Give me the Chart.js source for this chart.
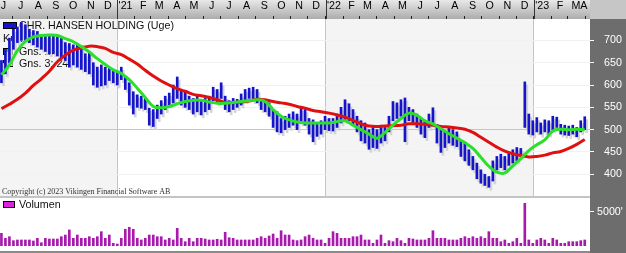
<!DOCTYPE html>
<html><head><meta charset="utf-8">
<script src="https://cdn.jsdelivr.net/npm/chart.js@4.4.0/dist/chart.umd.min.js"></script>
<style>
html,body{margin:0;padding:0;background:#fff;overflow:hidden}
#wrap{position:relative;width:626px;height:253px}
#c1{position:absolute;left:0;top:0}
#c2{position:absolute;left:0;top:196px}
</style></head><body>
<div id="wrap"><canvas id="c1" width="626" height="196"></canvas><canvas id="c2" width="626" height="57"></canvas></div>
<script>
// ---- data (weekly, first week ending 2020-06-12) ----
const firstWeek = [2020, 5, 12];
const high = [655,680,705,725,730,740,735,725,722,720,
  712,712,710,712,708,705,695,693,690,693,
  688,670,672,650,640,645,640,638,635,630,
  640,620,605,585,578,575,570,548,545,555,
  565,575,582,600,618,590,585,575,570,575,
  565,570,575,595,590,605,575,565,570,568,
  580,590,593,595,590,570,565,560,545,540,
  525,530,535,540,535,548,545,525,522,515,
  520,530,525,525,535,550,567,558,545,530,
  520,515,500,505,500,510,505,530,563,560,
  567,571,550,545,535,525,520,535,549,512,
  505,495,505,500,495,475,470,455,440,425,
  410,400,395,430,440,445,440,450,455,460,
  458,607,535,520,527,515,522,520,530,528,
  512,510,508,510,505,520,529];
const low = [605,625,650,680,695,700,700,695,690,685,
  680,675,670,670,665,660,655,640,645,640,
  635,630,625,600,595,598,600,610,605,600,
  612,590,555,535,550,548,545,510,507,525,
  535,545,555,560,570,555,550,545,535,540,
  533,540,545,565,560,570,545,540,545,550,
  555,565,570,565,560,545,540,530,505,495,
  493,500,505,510,500,515,510,490,473,485,
  490,500,498,497,505,515,520,520,510,495,
  475,470,456,460,458,470,475,495,520,525,
  530,473,520,515,505,490,482,505,510,470,
  449,460,470,465,462,440,430,420,410,390,
  380,375,371,385,410,415,410,420,425,430,
  440,505,490,488,495,490,495,490,500,505,
  490,488,487,490,484,495,500];
// volume in thousands
const volume = [1850,1120,1360,780,880,880,880,880,730,1120,
  480,1120,1020,1020,1020,1360,1600,2340,1120,1600,
  1120,1120,1360,1120,1360,2090,1120,1600,390,290,
  1120,2440,2730,2440,1120,880,1120,1600,1600,1360,
  1360,880,1120,880,2580,1120,630,1120,630,1120,
  1120,1020,880,880,980,880,2000,1210,1120,880,
  880,880,880,880,1120,1360,1120,1460,1750,1120,
  2230,1600,1600,880,780,880,1360,1600,1120,880,
  880,390,1120,2090,1850,1120,1120,1120,1360,1360,
  1600,880,880,390,880,1600,390,780,630,1120,
  780,390,1120,1020,880,880,880,1120,2230,1120,
  1120,1120,880,880,880,1120,1360,1120,1360,1120,
  1360,1120,2090,1120,1120,630,880,390,630,1120,
  390,6230,880,390,880,1120,880,390,1120,880,
  390,390,630,630,630,780,880];
// moving averages read every 2nd week (weeks 0,2,4,...)
const ma8 = [623,645,677,698,708,711,712,711,704,697,
  686,674,659,646,634,626,612,593,572,552,
  549,552,558,563,566,566,562,559,559,561,
  563,565,567,563,545,530,522,517,515,515,
  515,515,518,520,510,500,490,481,494,510,
  525,537,532,520,513,502,491,481,471,458,
  438,418,405,403,419,435,453,466,477,497,
  501,500,501,500];
const ma24 = [547,557,568,582,599,614,631,652,667,678,
  683,687,686,682,673,668,658,647,633,620,
  609,600,592,586,579,576,572,567,561,561,
  562,564,568,567,563,560,557,552,548,543,
  540,537,533,528,521,513,508,507,508,509,
  510,513,513,512,510,507,506,504,501,494,
  483,472,461,452,446,442,439,440,443,448,
  451,458,467,478];
const priceTicks = [400,450,500,550,600,650,700];
const volumeTicks = [5000];
const monthLetters = ['J','F','M','A','M','J','J','A','S','O','N','D'];
const titleText = 'CHR. HANSEN HOLDING (Uge)';
const legendRows = ['Kurs','Gns. 1: 8','Gns. 3: 24'];

// ---- helpers ----
const DAY = 864e5, BASE = Date.UTC(2021,0,1);
const w0 = (Date.UTC(firstWeek[0],firstWeek[1],firstWeek[2]) - BASE)/DAY;
const weekX = high.map((_,i)=> w0 + 7*i);
const XMIN = -205.5, XMAX = 828.2;
const monthStarts = [], labelPos = [], labelText = [], yearStarts = [];
for (let y=2020, m=5; y<2023 || (y===2023 && m<=3);) {
  const v = (Date.UTC(y,m,1)-BASE)/DAY;
  monthStarts.push(v);
  labelPos.push(Math.min(v+14.5, XMAX-11));
  labelText.push(m===0 ? "'"+String(y).slice(2) : monthLetters[m]);
  if (m===0) yearStarts.push(v);
  m++; if (m===12){m=0;y++;}
}
const barData = weekX.map((x,i)=>({x, y:[low[i],high[i]]}));
const volData = weekX.map((x,i)=>({x, y:volume[i]}));
const ma8Data = ma8.map((v,k)=>({x: weekX[2*k], y:v}));
const ma24Data = ma24.map((v,k)=>({x: weekX[2*k], y:v}));
const SANS = '"Liberation Sans", Arial, sans-serif';
const noPad = s => { s.paddingLeft = 0; s.paddingRight = 0; s.paddingTop = 0; s.paddingBottom = 0; };

const pricePlugin = {
  id:'pricePanel',
  beforeDraw(chart){
    const {ctx, chartArea:a, width, height} = chart;
    const xs = chart.scales.x;
    ctx.save();
    ctx.fillStyle='#fff'; ctx.fillRect(0,0,width,height);
    ctx.fillStyle='#f4f4f4';
    const spans = [[XMIN, yearStarts[0]], [yearStarts[1], yearStarts[2]]];
    for (const [s,e] of spans){
      const x0=Math.max(a.left, xs.getPixelForValue(s)), x1=Math.min(a.right, xs.getPixelForValue(e));
      ctx.fillRect(x0,a.top,x1-x0,a.bottom-a.top);
    }
    const g = ctx.createLinearGradient(0,0,0,a.top);
    g.addColorStop(0,'#e8e8e8'); g.addColorStop(1,'#acacac');
    ctx.fillStyle=g; ctx.fillRect(0,0,a.right,a.top);
    ctx.fillStyle='#c6c6c6'; ctx.fillRect(a.right,0,width-a.right,a.top);
    ctx.fillStyle='#6d6d6d'; ctx.fillRect(a.right,a.top,width-a.right,height-a.top);
    ctx.restore();
  },
  beforeDatasetsDraw(chart){
    const {ctx} = chart;
    ctx.save();
    ctx.font = '10.7px '+SANS; ctx.textBaseline='middle';
    ctx.strokeStyle='#000'; ctx.lineWidth=1;
    ctx.fillStyle='#1414cc'; ctx.fillRect(3,22,14,7); ctx.strokeRect(3.5,22.5,13,6);
    ctx.fillStyle='#111'; ctx.fillText(titleText,19,26);
    ctx.fillText(legendRows[0],3,39);
    ctx.fillStyle='#22dd22'; ctx.fillRect(3,48,10,7); ctx.strokeRect(3.5,48.5,9,6);
    ctx.fillStyle='#111'; ctx.fillText(legendRows[1],19,52);
    ctx.fillStyle='#dd1111'; ctx.fillRect(3,60,10,7); ctx.strokeRect(3.5,60.5,9,6);
    ctx.fillStyle='#111'; ctx.fillText(legendRows[2],19,64);
    ctx.font = '8px "Liberation Serif", "Times New Roman", serif'; ctx.fillStyle='#333';
    ctx.fillText('Copyright (c) 2023 Vikingen Financial Software AB',2,192);
    ctx.restore();
  },
  beforeDatasetDraw(chart,args){
    if (args.index===0){ chart.ctx.save(); chart.ctx.translate(2,3); }
  },
  afterDatasetDraw(chart,args){
    if (args.index===0){ chart.ctx.restore(); }
  },
  afterDraw(chart){
    const {ctx, chartArea:a} = chart;
    const xs = chart.scales.x;
    ctx.save(); ctx.strokeStyle='#333'; ctx.lineWidth=1;
    for (const v of yearStarts){
      const px = Math.round(xs.getPixelForValue(v))+0.5;
      ctx.beginPath(); ctx.moveTo(px,0); ctx.lineTo(px,a.top); ctx.stroke();
    }
    ctx.restore();
  }
};

new Chart(document.getElementById('c1'), {
  type:'bar',
  data:{datasets:[
    {type:'bar', data:barData, backgroundColor:'#d4d4d4', barThickness:2, grouped:false, order:10, borderWidth:0},
    {type:'bar', data:barData, backgroundColor:'#1414cc', barThickness:2, grouped:false, order:9, borderWidth:0},
    {type:'line', data:ma24Data, borderColor:'#e01010', borderWidth:3, pointRadius:0, tension:0.4, order:2},
    {type:'line', data:ma8Data, borderColor:'#2be02b', borderWidth:3, pointRadius:0, tension:0.4, order:1}
  ]},
  options:{
    responsive:false, animation:false, events:[],
    layout:{padding:0, autoPadding:false},
    plugins:{legend:{display:false}, tooltip:{enabled:false}},
    scales:{
      x:{type:'linear', position:'top', min:XMIN, max:XMAX, weight:0, offset:false,
        afterBuildTicks:s=>{ s.ticks = monthStarts.map(v=>({value:v})); },
        afterFit:s=>{ s.height=0; noPad(s); },
        grid:{offset:false, color:c=> (c.tick && yearStarts.includes(c.tick.value)) ? '#c4c4c4' : 'rgba(0,0,0,0)', tickColor:'#222', tickLength:3},
        border:{display:false},
        ticks:{display:false}
      },
      xl:{type:'linear', position:'top', min:XMIN, max:XMAX, weight:1, offset:false,
        afterBuildTicks:s=>{ s.ticks = labelPos.map(v=>({value:v})); },
        afterFit:s=>{ s.height=19; noPad(s); },
        grid:{display:false, drawTicks:false, offset:false}, border:{display:false},
        ticks:{callback:(v,i)=>labelText[i], color:'#000', font:{family:SANS, size:10.7}, padding:7, autoSkip:false, maxRotation:0, minRotation:0}
      },
      y:{position:'right', min:351.4, max:747.9,
        afterBuildTicks:s=>{ s.ticks = priceTicks.map(v=>({value:v})); },
        afterFit:s=>{ s.width=36; noPad(s); },
        grid:{color:c=> (c.tick && c.tick.value===500) ? '#c6c6c6' : '#f1f1f1', tickColor:'#ffffff', tickLength:4},
        border:{display:false},
        ticks:{color:'#fff', font:{family:SANS, size:10.7}, padding:10, crossAlign:'near'}
      }
    }
  },
  plugins:[pricePlugin]
});

const volPlugin = {
  id:'volPanel',
  beforeDraw(chart){
    const {ctx, chartArea:a, width, height} = chart;
    ctx.save();
    ctx.fillStyle='#fff'; ctx.fillRect(0,0,width,height);
    ctx.fillStyle='#c4c4c4'; ctx.fillRect(0,0,a.right,2);
    ctx.fillStyle='#8a8a8a'; ctx.fillRect(0,height-2,a.right,2);
    ctx.fillStyle='#6d6d6d'; ctx.fillRect(a.right,0,width-a.right,height);
    ctx.restore();
  },
  beforeDatasetsDraw(chart){
    const {ctx} = chart;
    ctx.save();
    ctx.strokeStyle='#000'; ctx.lineWidth=1;
    ctx.fillStyle='#e020e0'; ctx.fillRect(3,5,12,7); ctx.strokeRect(3.5,5.5,11,6);
    ctx.font='10.7px '+SANS; ctx.textBaseline='middle'; ctx.fillStyle='#111';
    ctx.fillText('Volumen',19,9);
    ctx.restore();
  }
};

new Chart(document.getElementById('c2'), {
  type:'bar',
  data:{datasets:[{data:volData, backgroundColor:'#a81aae', barThickness:2, borderWidth:0}]},
  options:{
    responsive:false, animation:false, events:[],
    layout:{padding:{top:2,bottom:7,left:0,right:0}, autoPadding:false},
    plugins:{legend:{display:false}, tooltip:{enabled:false}},
    scales:{
      x:{type:'linear', display:false, min:XMIN, max:XMAX, offset:false, grid:{offset:false}},
      y:{position:'right', min:0, max:7000,
        afterBuildTicks:s=>{ s.ticks = volumeTicks.map(v=>({value:v})); },
        afterFit:s=>{ s.width=36; noPad(s); },
        grid:{color:'rgba(0,0,0,0)', tickColor:'#ffffff', tickLength:4},
        border:{display:false},
        ticks:{color:'#fff', font:{family:SANS, size:10.7}, padding:3, callback:v=>v+"'"}
      }
    }
  },
  plugins:[volPlugin]
});
</script>
</body></html>
